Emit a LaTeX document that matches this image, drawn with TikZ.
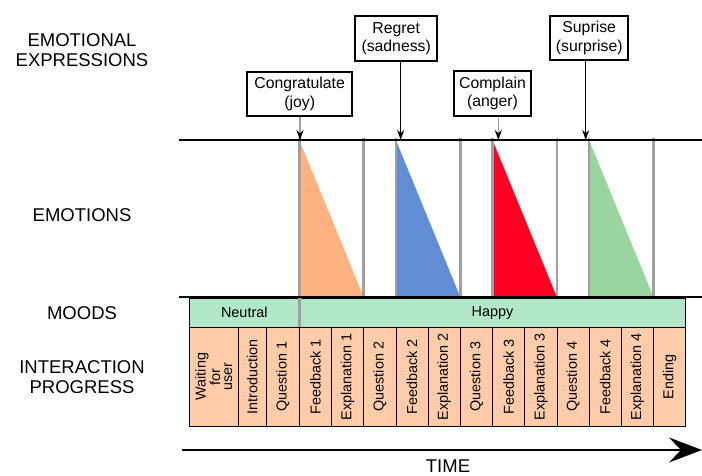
\documentclass[tikz,border=0pt]{standalone}
\usepackage{fontspec}
\setmainfont{Liberation Sans}
\usetikzlibrary{arrows.meta}
\definecolor{moodgreen}{RGB}{176,232,200}
\definecolor{peach}{RGB}{255,204,170}
\definecolor{emoorange}{RGB}{255,178,127}
\definecolor{emoblue}{RGB}{96,141,212}
\definecolor{emored}{RGB}{255,0,34}
\definecolor{emogreen}{RGB}{154,213,160}
\definecolor{tickgray}{RGB}{160,160,160}
\begin{document}
\begin{tikzpicture}[x=1pt,y=-1pt,
  layer/.style={font=\fontsize{18.5}{20}\selectfont, align=center, inner sep=0pt},
  exprbox/.style={draw, line width=2pt, fill=white, align=center, inner sep=0pt,
    font=\fontsize{15.8}{18.5}\selectfont},
  moodcell/.style={draw, line width=0.7pt, fill=moodgreen, inner sep=0pt,
    minimum height=29.3pt, font=\fontsize{14.4}{16}\selectfont},
  stepcell/.style={draw, line width=0.7pt, fill=peach, inner sep=0pt, rotate=90,
    minimum width=98.7pt, align=center, font=\fontsize{14.4}{12}\selectfont},
  tickline/.style={draw=tickgray, line width=2.5pt},
  rail/.style={draw, line width=2.5pt},
  graystem/.style={draw=tickgray, line width=1.3pt, -{Stealth[color=black,length=10pt,width=7pt]}},
  blackstem/.style={draw, line width=1.1pt, -{Stealth[length=10pt,width=7pt]}}
]
\useasboundingbox (0,0) rectangle (702,476);

% layer captions
\node[layer] (lexpr) at (82,50) {EMOTIONAL\\EXPRESSIONS};
\node[layer] (lemo) at (82,215) {EMOTIONS};
\node[layer] (lmood) at (82,313) {MOODS};
\node[layer] (lprog) at (82,377) {INTERACTION\\PROGRESS};

% emotion intensity triangles
\fill[emoorange] (299.3,140) -- (363.7,297) -- (299.3,297) -- cycle;
\fill[emoblue]   (395.9,140) -- (460.3,297) -- (395.9,297) -- cycle;
\fill[emored]    (492.5,140) -- (556.9,297) -- (492.5,297) -- cycle;
\fill[emogreen]  (589.1,140) -- (653.5,297) -- (589.1,297) -- cycle;

% step boundaries in the emotion band
\foreach \x in {363.7,395.9,460.3,492.5,556.9,589.1,653.5}
  \draw[tickline] (\x,138.5) -- (\x,297);

% moods
\node[moodcell, minimum width=110pt] (neutral) at (244.3,312.7) {Neutral};
\node[moodcell, minimum width=386.4pt] (happy) at (492.5,312.7) {Happy};
\draw[tickline] (299.3,138.5) -- (299.3,327.3);

% emotion band rails
\coordinate (railA0) at (179,140);
\coordinate (railA1) at (702,140);
\coordinate (railB0) at (179,297);
\coordinate (railB1) at (702,297);
\draw[rail] (railA0) -- (railA1);
\draw[rail] (railB0) -- (railB1);

% interaction steps
\node[stepcell, minimum height=49pt] (s1) at (213.8,376.65) {Waiting\\for\\user};
\node[stepcell, minimum height=27.7pt] (s2) at (252.15,376.65) {Introduction};
\node[stepcell, minimum height=33.3pt] (s3) at (282.65,376.65) {Question 1};
\foreach \t [count=\i] in {Feedback 1,Explanation 1,Question 2,Feedback 2,Explanation 2,
    Question 3,Feedback 3,Explanation 3,Question 4,Feedback 4,Explanation 4,Ending}
  \node[stepcell, minimum height=32.2pt] (p\i) at ({299.3+32.2*(\i-0.5)},376.65) {\t};

% emotional expressions
\node[exprbox, minimum width=105.3pt, minimum height=44pt] (congr) at (299.7,93.7) {Congratulate\\(joy)};
\node[exprbox, minimum width=82.3pt, minimum height=44.7pt] (regret) at (396.2,38.7) {Regret\\(sadness)};
\node[exprbox, minimum width=77.6pt, minimum height=44.7pt] (complain) at (492.5,93.4) {Complain\\(anger)};
\node[exprbox, minimum width=77.7pt, minimum height=44.3pt] (suprise) at (589.2,37.9) {Suprise\\(surprise)};
\coordinate (tjoy) at (300,140);
\coordinate (tsad) at (400.7,140);
\coordinate (tang) at (498.3,140);
\coordinate (tsur) at (585.7,140);
\draw[graystem] (congr.south -| tjoy) -- (tjoy);
\draw[blackstem] (regret.south -| tsad) -- (tsad);
\draw[graystem] (complain.south -| tang) -- (tang);
\draw[blackstem] (suprise.south -| tsur) -- (tsur);

% time axis
\coordinate (time0) at (181.7,450);
\coordinate (time1) at (702,450);
\draw[line width=2pt, -{Stealth[length=33pt,width=25pt,inset=12pt]}] (time0) -- (time1);
\node[layer] (ltime) at (448,466.5) {TIME};
\end{tikzpicture}
\end{document}
